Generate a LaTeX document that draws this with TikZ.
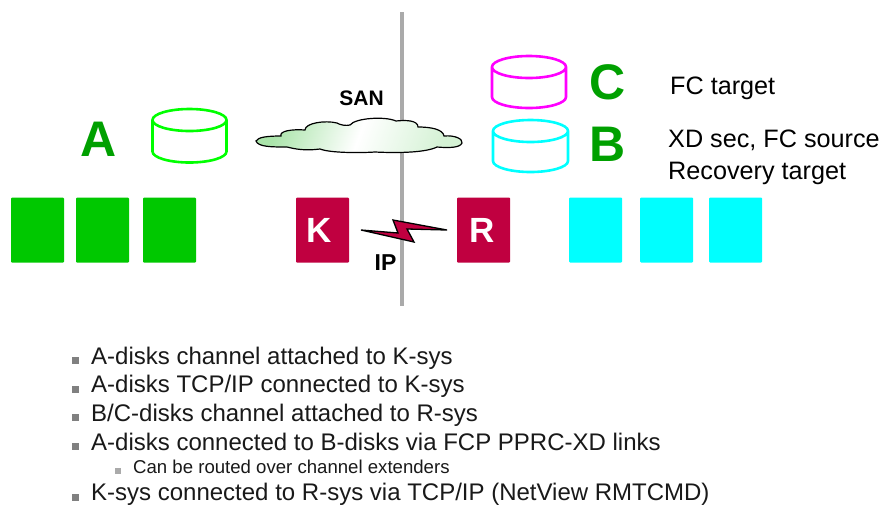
\documentclass[tikz,border=0pt]{standalone}
\usepackage{fontspec}
\setmainfont{Liberation Sans}
\definecolor{grn}{RGB}{0,200,0}
\definecolor{dgrn}{RGB}{0,160,0}
\definecolor{crim}{RGB}{192,0,64}
\definecolor{cyn}{RGB}{0,255,255}
\definecolor{mag}{RGB}{255,0,255}
\definecolor{lime}{RGB}{0,255,0}
\definecolor{bar}{RGB}{170,170,170}
\definecolor{bul}{RGB}{128,128,128}
\definecolor{cloudg}{RGB}{170,228,170}
\tikzset{
  sysbox/.style={minimum width=53pt,minimum height=65pt,inner sep=0pt,rounded corners=1pt},
  greenbox/.style={sysbox,fill=grn},
  cyanbox/.style={sysbox,fill=cyn},
  crimbox/.style={sysbox,fill=crim},
  sysletter/.style={inner sep=0pt,text=white,font=\bfseries\fontsize{35}{35}\selectfont},
  bigletter/.style={text=dgrn,font=\bfseries\fontsize{50}{50}\selectfont,inner sep=0pt},
  note/.style={anchor=base west,inner sep=0pt,font=\fontsize{25.2}{25.2}\selectfont},
  callout/.style={anchor=base,inner sep=0pt,font=\bfseries\fontsize{21}{21}\selectfont},
  item/.style={anchor=base west,inner sep=0pt,font=\fontsize{24}{24}\selectfont,text=black!90},
  subitem/.style={anchor=base west,inner sep=0pt,font=\fontsize{18.6}{18.6}\selectfont,text=black!90},
  bullet/.style={fill=bul,inner sep=0pt,minimum size=7pt,anchor=south west},
  subbullet/.style={fill=bar,inner sep=0pt,minimum size=5.5pt,anchor=south west},
}
\newcommand{\diskshape}[5]{% x left, x right, y top, y bottom, colour
  \draw[#5,line width=2.6pt]
    (#1,#3+11) arc[start angle=180,end angle=360,x radius={(#2-#1)/2},y radius=11]
    -- (#2,#4-11) arc[start angle=0,end angle=180,x radius={(#2-#1)/2},y radius=11] -- cycle
    (#1,#3+11) arc[start angle=180,end angle=0,x radius={(#2-#1)/2},y radius=11];
}
\begin{document}
\begin{tikzpicture}[x=1pt,y=-1pt]
\useasboundingbox (0,0) rectangle (885,507);
\fill[white] (0,0) rectangle (885,507);
% divider
\coordinate (barTop) at (402,12);
\coordinate (barBot) at (402,306);
\draw[bar,line width=4pt] (barTop) -- (barBot);
% cloud
\draw[black,line width=1.2pt,shade,left color=cloudg,right color=cloudg!50,middle color=white,shading angle=70]
 (256,141) .. controls (258,137) and (268,136) .. (281,136)
 .. controls (279,131) and (292,129) .. (305,130)
 .. controls (305,123) and (325,120) .. (337,123)
 .. controls (340,125) and (346,126) .. (350,125)
 .. controls (355,118) and (385,116) .. (396,121)
 .. controls (405,120) and (418,120) .. (418,127)
 .. controls (430,127) and (443,129) .. (444,136)
 .. controls (455,135) and (463,139) .. (462,143)
 .. controls (460,148) and (448,148) .. (437,147)
 .. controls (425,153) and (395,153) .. (375,152)
 .. controls (360,153) and (330,153) .. (320,149)
 .. controls (305,151) and (295,149) .. (287,147)
 .. controls (272,147) and (258,147) .. (256,141) -- cycle;
\node[callout] (san) at (361.5,105) {SAN};
% disks
\diskshape{152.5}{226.5}{109}{162.5}{lime}
\diskshape{492}{566}{56}{108}{mag}
\diskshape{493}{568}{120}{172}{cyn}
% letters
\node[bigletter] (la) at (98.5,139) {A};
\node[bigletter] (lc) at (608,82) {C};
\node[bigletter] (lb) at (608,144) {B};
% notes
\node[note] (n1) at (670,94) {FC target};
\node[note] (n2) at (668,147) {XD sec, FC source};
\node[note] (n3) at (668,179) {Recovery target};
% systems
\node[greenbox] (g1) at (37.5,230) {};
\node[greenbox] (g2) at (102.5,230) {};
\node[greenbox] (g3) at (169.5,230) {};
\node[crimbox] (k) at (322.5,230) {};
\node[crimbox] (r) at (483.5,230) {};
\node[sysletter] (kl) at (319,230) {K};
\node[sysletter] (rl) at (482,230) {R};
\node[cyanbox] (c1) at (595.5,230) {};
\node[cyanbox] (c2) at (666.5,230) {};
\node[cyanbox] (c3) at (735.5,230) {};
% lightning
\draw[black,line width=1.3pt,fill=crim,line join=miter]
 (361,230) -- (398,233) -- (393,220) -- (447,230) -- (407,229) -- (414,242) -- cycle;
\node[callout,font=\bfseries\fontsize{23}{23}\selectfont] (ip) at (385.5,270) {IP};
% bullets
\node[bullet] (b1) at (72,364) {};
\node[item] (t1) at (91,364) {A-disks channel attached to K-sys};
\node[bullet] (b2) at (72,393) {};
\node[item] (t2) at (91,392.5) {A-disks TCP/IP connected to K-sys};
\node[bullet] (b3) at (72,421) {};
\node[item] (t3) at (91,421) {B/C-disks channel attached to R-sys};
\node[bullet] (b4) at (72,450) {};
\node[item] (t4) at (91,450) {A-disks connected to B-disks via FCP PPRC-XD links};
\node[subbullet] (b5) at (115,474) {};
\node[subitem] (t5) at (133,473) {Can be routed over channel extenders};
\node[bullet] (b6) at (72,501) {};
\node[item] (t6) at (91,500) {K-sys connected to R-sys via TCP/IP (NetView RMTCMD)};
\end{tikzpicture}
\end{document}
